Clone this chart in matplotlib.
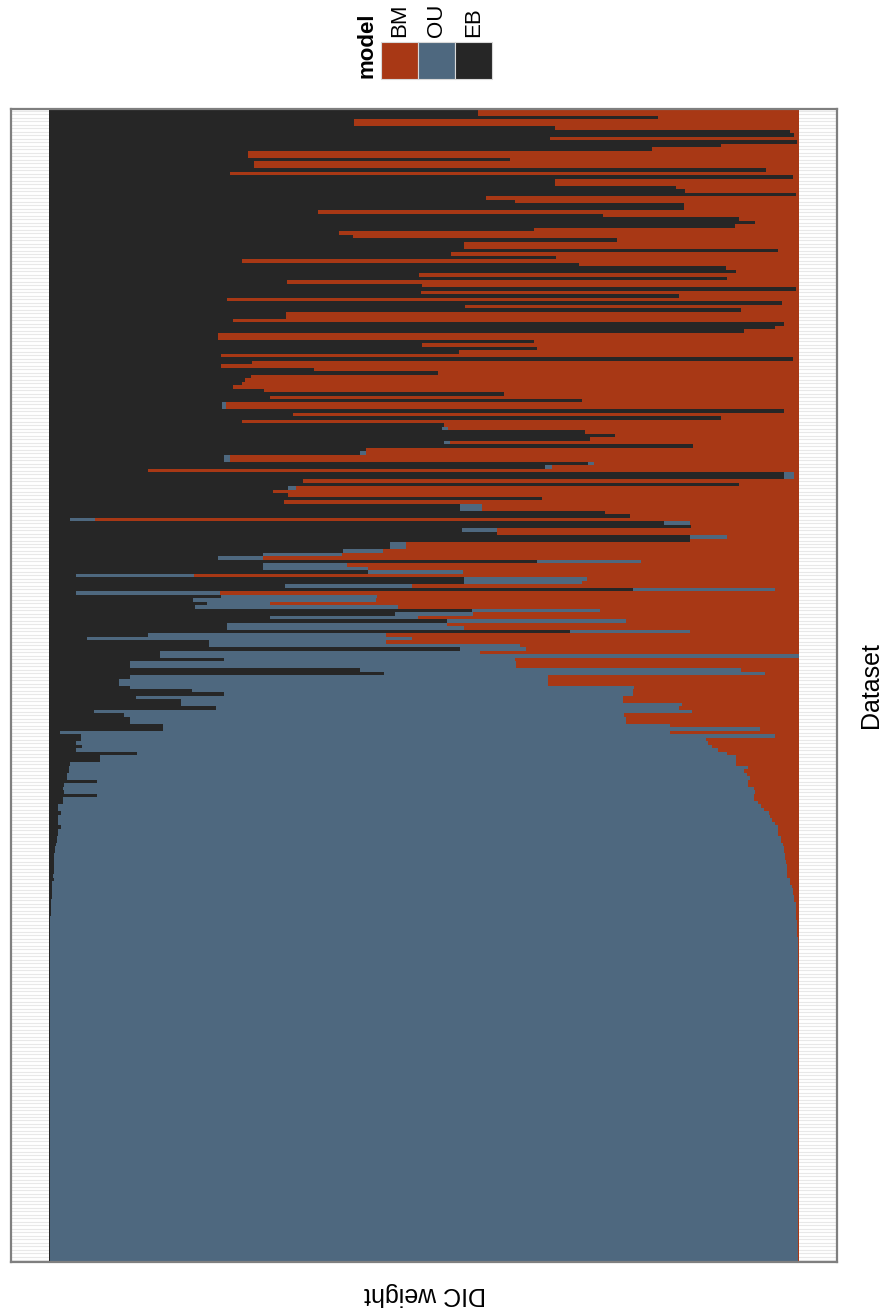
import matplotlib
matplotlib.use("Agg")
import matplotlib.pyplot as plt
from matplotlib.patches import Rectangle
import numpy as np

plt.rcParams["font.family"] = ["Liberation Sans", "DejaVu Sans"]

# DIC weights (percent) per dataset, top to bottom
eb_pct = [
    57.2, 57.2, 81.1, 40.7, 40.7, 67.4, 98.7, 99.3, 66.8, 99.7,
    89.6, 80.3, 26.6, 26.6, 61.4, 27.3, 27.3, 95.5, 24.1, 99.1,
    67.4, 67.4, 83.6, 84.7, 99.5, 58.2, 62.1, 84.6, 84.6, 35.9,
    73.8, 92.0, 94.1, 91.4, 64.6, 38.7, 40.6, 75.7, 55.3, 55.3,
    97.1, 53.6, 67.6, 25.8, 70.7, 90.2, 91.5, 49.3, 90.4, 31.8,
    49.7, 99.6, 49.6, 84.0, 23.8, 97.7, 55.5, 92.2, 31.6, 31.6,
    24.6, 97.9, 96.8, 92.6, 22.6, 22.6, 64.6, 49.7, 65.0, 54.7,
    22.9, 99.2, 27.1, 22.9, 35.4, 51.9, 26.9, 26.2, 25.8, 24.5,
    28.7, 60.6, 29.5, 71.1, 23.1, 23.1, 97.9, 32.6, 89.6, 25.8,
    52.7, 52.4, 71.5, 75.5, 72.1, 52.7, 85.8, 42.3, 41.5, 23.3,
    23.3, 71.9, 66.1, 13.3, 98.0, 98.0, 33.9, 92.0, 31.9, 29.9,
    31.9, 65.7, 31.3, 54.8, 54.8, 74.1, 77.4, 2.9, 81.9, 85.6,
    55.1, 59.7, 85.4, 85.4,
    45.5, 45.5, 39.2, 28.5, 22.6, 65.0, 28.5, 28.5, 42.6, 3.7,
    55.3, 55.3, 31.5, 77.8, 3.7, 23.0, 19.3, 21.1, 19.5, 56.4,
    46.2, 29.5, 53.1, 23.7, 23.7, 69.4, 13.2, 5.1, 21.4, 21.4,
    54.8, 14.9, 14.9, 23.4, 10.9, 10.9, 41.5, 44.7, 10.8, 9.4,
    9.4, 10.9, 19.1, 23.4, 11.7, 17.6, 17.6, 22.3, 6.0, 10.1,
    10.8, 10.8, 15.3, 15.3, 1.5, 4.3, 4.3, 3.6, 4.5, 3.6,
    11.8, 6.9, 6.9, 2.9,
    2.7, 2.7, 2.4, 2.4, 6.5, 2.1, 1.9, 2.1, 6.5, 1.9,
    1.9, 1.3, 1.3, 1.6, 1.3, 1.2, 1.2, 1.6, 1.2, 1.2,
    1.1, 1.1, 1.0, 0.8, 0.8, 0.7, 0.7, 0.7, 0.7, 0.7,
    0.7, 0.6, 0.7, 0.5, 0.4, 0.4, 0.4, 0.4, 0.3, 0.3,
    0.3, 0.3, 0.3, 0.2, 0.2, 0.2, 0.2, 0.2, 0.15, 0.15,
    0.15, 0.15, 0.15, 0.15, 0.15, 0.15, 0.15, 0.15, 0.15, 0.15,
    0.15, 0.15, 0.15, 0.15, 0.15, 0.15, 0.15, 0.15, 0.15, 0.15,
    0.15, 0.15, 0.15, 0.15, 0.15, 0.15, 0.15, 0.15, 0.15, 0.15,
    0.15, 0.15, 0.15, 0.15, 0.15, 0.15, 0.15, 0.15, 0.15, 0.15,
    0.15, 0.15, 0.15, 0.15, 0.15, 0.15, 0.15, 0.15, 0.15, 0.15,
    0.15, 0.15, 0.15, 0.15, 0.15, 0.15, 0.15, 0.15, 0.15, 0.15,
    0.15, 0.15, 0.15, 0.15, 0.15, 0.15, 0.15, 0.15, 0.15, 0.15,
    0.15, 0.15, 0.15, 0.15, 0.15, 0.15, 0.15, 0.15, 0.15, 0.15,
    0.15, 0.15, 0.15, 0.15, 0.15, 0.15, 0.15, 0.15, 0.15, 0.15,
    0.15, 0.15,
]

ou_pct = [
    0, 0, 0, 0, 0, 0, 0, 0, 0, 0,
    0, 0, 0, 0, 0, 0, 0, 0, 0, 0,
    0, 0, 0, 0, 0, 0, 0, 0, 0, 0,
    0, 0, 0, 0, 0, 0, 0, 0, 0, 0,
    0, 0, 0, 0, 0, 0, 0, 0, 0, 0,
    0, 0, 0, 0, 0, 0, 0, 0, 0, 0,
    0, 0, 0, 0, 0, 0, 0, 0, 0, 0,
    0, 0, 0, 0, 0, 0, 0, 0, 0, 0,
    0, 0, 0, 0, 0.5, 0.5, 0, 0, 0, 0,
    0, 0.8, 0, 0, 0, 0.8, 0, 0, 0.8, 0.9,
    0.9, 0.8, 0.9, 0, 1.3, 1.3, 0, 0, 1.0, 0,
    0, 0, 0, 2.9, 2.9, 0, 0, 3.3, 3.5, 0,
    4.6, 0, 5.0, 0,
    2.1, 2.1, 5.3, 10.6, 5.9, 13.9, 11.3, 14.1, 12.6, 15.7,
    16.4, 15.8, 16.9, 18.9, 19.1, 20.8, 24.3, 8.4, 27.0, 17.0,
    10.3, 19.7, 23.8, 29.4, 31.6, 16.0, 31.7, 43.3, 23.5, 41.4,
    8.8, 42.6, 85.1, 38.7, 51.3, 51.3, 50.7, 50.7, 55.7, 57.1,
    57.1, 67.0, 58.7, 54.4, 64.8, 58.9, 66.7, 61.7, 79.7, 66.6,
    66.1, 66.1, 67.4, 79.4, 81.3, 92.5, 83.2, 84.2, 83.9, 85.5,
    78.6, 84.7, 84.7, 88.6,
    90.5, 89.9, 90.6, 91.0, 86.7, 91.1, 92.0, 92.0, 87.5, 92.1,
    92.6, 93.6, 94.0, 94.4, 94.8, 95.2, 95.5, 95.5, 95.9, 96.0,
    96.4, 96.4, 96.8, 97.2, 97.2, 97.4, 97.4, 97.5, 97.6, 97.6,
    97.7, 97.8, 98.0, 98.2, 98.6, 98.7, 98.8, 98.9, 99.0, 99.2,
    99.2, 99.3, 99.3, 99.4, 99.5, 99.5, 99.5, 99.5, 99.5, 99.6,
    99.6, 99.6, 99.7, 99.7, 99.7, 99.7, 99.7, 99.7, 99.7, 99.7,
    99.7, 99.7, 99.7, 99.7, 99.7, 99.7, 99.7, 99.7, 99.7, 99.7,
    99.7, 99.7, 99.7, 99.7, 99.7, 99.7, 99.7, 99.7, 99.7, 99.7,
    99.7, 99.7, 99.7, 99.7, 99.7, 99.7, 99.7, 99.7, 99.7, 99.7,
    99.7, 99.7, 99.7, 99.7, 99.7, 99.7, 99.7, 99.7, 99.7, 99.7,
    99.7, 99.7, 99.7, 99.7, 99.7, 99.7, 99.7, 99.7, 99.7, 99.7,
    99.7, 99.7, 99.7, 99.7, 99.7, 99.7, 99.7, 99.7, 99.7, 99.7,
    99.7, 99.7, 99.7, 99.7, 99.7, 99.7, 99.7, 99.7, 99.7, 99.7,
    99.7, 99.7, 99.7, 99.7, 99.7, 99.7, 99.7, 99.7, 99.7, 99.7,
    99.7, 99.7,
]

models = ["BM", "OU", "EB"]
model_colors = {"BM": "#A83815", "OU": "#4E687F", "EB": "#262626"}

eb = np.array(eb_pct) / 100.0
ou = np.array(ou_pct) / 100.0
bm = 1.0 - eb - ou          # weights of the three models sum to one
n = len(eb)
pos = np.arange(n)

W, H = 881, 1308
fig = plt.figure(figsize=(W / 100, H / 100), dpi=100)
fig.patch.set_facecolor("white")

ax = fig.add_axes([11 / W, 1 - 1262 / H, (837 - 11) / W, (1262 - 109) / H])
bar_kw = dict(height=1.0, linewidth=0, antialiased=False)
ax.barh(pos, eb, left=0, color=model_colors["EB"], **bar_kw)
ax.barh(pos, ou, left=eb, color=model_colors["OU"], **bar_kw)
ax.barh(pos, bm, left=eb + ou, color=model_colors["BM"], **bar_kw)

ax.set_xlim(-0.05, 1.05)
ax.set_ylim(n - 0.5, -0.5)
ax.set_yticks(pos)
ax.set_xticks([])
ax.tick_params(length=0, labelleft=False, labelbottom=False)
ax.set_axisbelow(True)
ax.yaxis.grid(True, color="#e8e8e8", linewidth=0.8)
for sp in ax.spines.values():
    sp.set_color("#7f7f7f")
    sp.set_linewidth(1.6)

# axis titles
fig.text(425 / W, 1 - 1294 / H, "DIC weight", rotation=180, fontsize=18,
         ha="center", va="center")
fig.text(871 / W, 1 - 685 / H, "Dataset", rotation=90, fontsize=18,
         ha="center", va="center")

# legend drawn along the top
key_w, key_h = 37, 37
key_x0, key_y0 = 381, 42
for i, m in enumerate(models):
    x = key_x0 + i * key_w
    fig.patches.append(Rectangle((x / W, 1 - (key_y0 + key_h) / H), key_w / W, key_h / H,
                                 transform=fig.transFigure, facecolor=model_colors[m],
                                 edgecolor="#d9d9d9", linewidth=0.8))
    fig.text((x + key_w / 2) / W, 1 - 37 / H, m, rotation=90, fontsize=16,
             ha="center", va="bottom")
fig.text(367 / W, 1 - 78 / H, "model", rotation=90, fontsize=16, fontweight="bold",
         ha="center", va="bottom")

fig.savefig("out.png", dpi=100, facecolor="white")
